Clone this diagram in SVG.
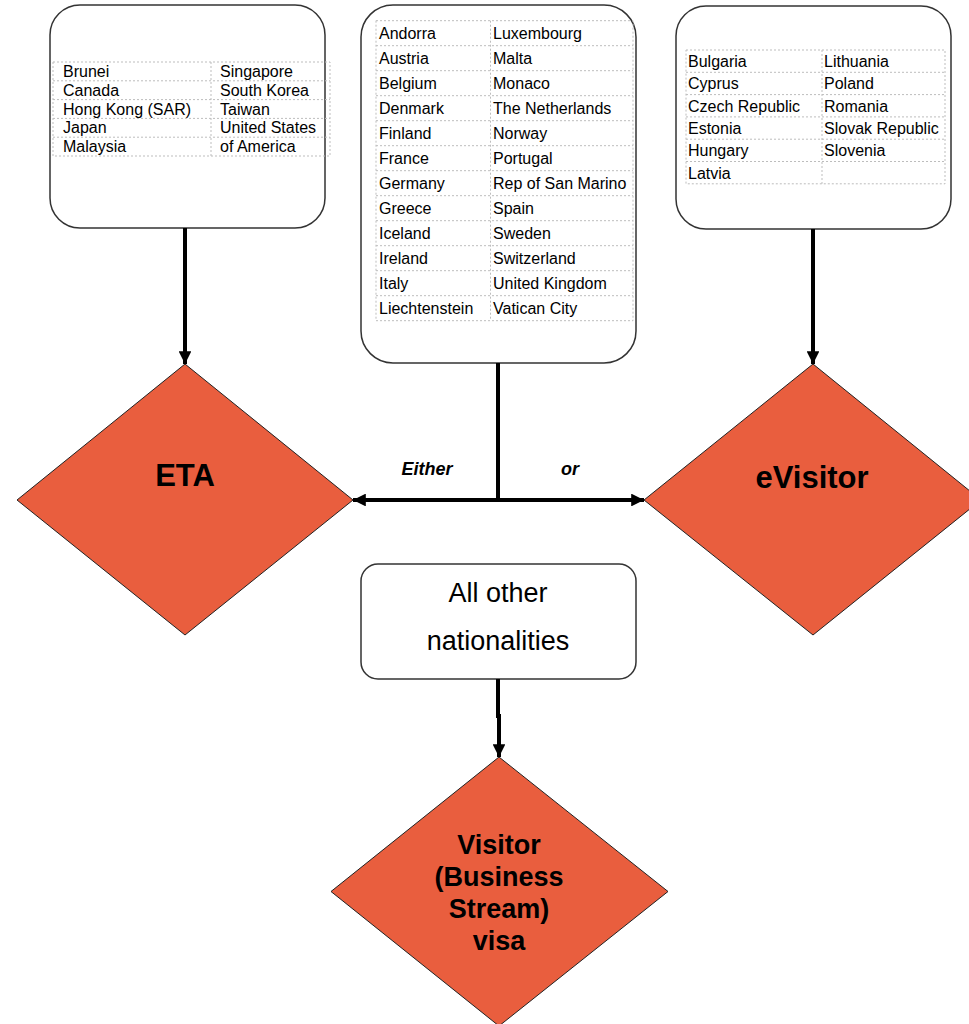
<svg xmlns="http://www.w3.org/2000/svg" width="969" height="1024" viewBox="0 0 969 1024">
<defs>
<style>
.box{fill:#fff;stroke:#333;stroke-width:1.5}
.grid{fill:none;stroke:#bdbdbd;stroke-width:1;stroke-dasharray:2,2}
.t{font-family:"Liberation Sans",Arial,sans-serif;font-size:16px;fill:#000}
.dia{fill:#E95E3E;stroke:#222;stroke-width:1}
.dt{font-family:"Liberation Sans",Arial,sans-serif;font-weight:bold;fill:#000;text-anchor:middle}
.lbl{font-family:"Liberation Sans",Arial,sans-serif;font-style:italic;font-weight:bold;font-size:18px;fill:#000;text-anchor:middle}
.conn{fill:none;stroke:#000;stroke-width:4}
</style>
<marker id="ah" viewBox="0 0 10 10" refX="10" refY="5" markerWidth="3.6" markerHeight="3.2" orient="auto" markerUnits="strokeWidth">
<path d="M0,0 L10,5 L0,10 z" fill="#000"/>
</marker>
</defs>

<g id="box-eta">
<rect class="box" x="50" y="5" width="275" height="223" rx="30"/>
<g class="grid">
<rect x="53" y="62" width="277" height="94"/>
<line x1="211" y1="62" x2="211" y2="156"/>
<line x1="53" y1="80.8" x2="330" y2="80.8"/>
<line x1="53" y1="99.6" x2="330" y2="99.6"/>
<line x1="53" y1="118.4" x2="330" y2="118.4"/>
<line x1="53" y1="137.2" x2="330" y2="137.2"/>
</g>
<text class="t" x="63" y="77">Brunei</text>
<text class="t" x="63" y="95.8">Canada</text>
<text class="t" x="63" y="114.6">Hong Kong (SAR)</text>
<text class="t" x="63" y="133.4">Japan</text>
<text class="t" x="63" y="152.2">Malaysia</text>
<text class="t" x="220" y="77">Singapore</text>
<text class="t" x="220" y="95.8">South Korea</text>
<text class="t" x="220" y="114.6">Taiwan</text>
<text class="t" x="220" y="133.4">United States</text>
<text class="t" x="220" y="152.2">of America</text>
</g>

<g id="box-either">
<rect class="box" x="361" y="5" width="275" height="358" rx="32"/>
<g class="grid">
<rect x="376" y="20.7" width="257" height="300"/>
<line x1="490.5" y1="20.7" x2="490.5" y2="320.7"/>
<line x1="376" y1="45.7" x2="633" y2="45.7"/>
<line x1="376" y1="70.7" x2="633" y2="70.7"/>
<line x1="376" y1="95.7" x2="633" y2="95.7"/>
<line x1="376" y1="120.7" x2="633" y2="120.7"/>
<line x1="376" y1="145.7" x2="633" y2="145.7"/>
<line x1="376" y1="170.7" x2="633" y2="170.7"/>
<line x1="376" y1="195.7" x2="633" y2="195.7"/>
<line x1="376" y1="220.7" x2="633" y2="220.7"/>
<line x1="376" y1="245.7" x2="633" y2="245.7"/>
<line x1="376" y1="270.7" x2="633" y2="270.7"/>
<line x1="376" y1="295.7" x2="633" y2="295.7"/>
</g>
<text class="t" x="379" y="38.5">Andorra</text>
<text class="t" x="379" y="63.5">Austria</text>
<text class="t" x="379" y="88.5">Belgium</text>
<text class="t" x="379" y="113.5">Denmark</text>
<text class="t" x="379" y="138.5">Finland</text>
<text class="t" x="379" y="163.5">France</text>
<text class="t" x="379" y="188.5">Germany</text>
<text class="t" x="379" y="213.5">Greece</text>
<text class="t" x="379" y="238.5">Iceland</text>
<text class="t" x="379" y="263.5">Ireland</text>
<text class="t" x="379" y="288.5">Italy</text>
<text class="t" x="379" y="313.5">Liechtenstein</text>
<text class="t" x="493" y="38.5">Luxembourg</text>
<text class="t" x="493" y="63.5">Malta</text>
<text class="t" x="493" y="88.5">Monaco</text>
<text class="t" x="493" y="113.5">The Netherlands</text>
<text class="t" x="493" y="138.5">Norway</text>
<text class="t" x="493" y="163.5">Portugal</text>
<text class="t" x="493" y="188.5">Rep of San Marino</text>
<text class="t" x="493" y="213.5">Spain</text>
<text class="t" x="493" y="238.5">Sweden</text>
<text class="t" x="493" y="263.5">Switzerland</text>
<text class="t" x="493" y="288.5">United Kingdom</text>
<text class="t" x="493" y="313.5">Vatican City</text>
</g>

<g id="box-evisitor">
<rect class="box" x="676" y="6" width="275" height="223" rx="30"/>
<g class="grid">
<rect x="686" y="50" width="259" height="133.8"/>
<line x1="822" y1="50" x2="822" y2="183.8"/>
<line x1="686" y1="72.3" x2="945" y2="72.3"/>
<line x1="686" y1="94.6" x2="945" y2="94.6"/>
<line x1="686" y1="116.9" x2="945" y2="116.9"/>
<line x1="686" y1="139.2" x2="945" y2="139.2"/>
<line x1="686" y1="161.5" x2="945" y2="161.5"/>
</g>
<text class="t" x="688" y="67">Bulgaria</text>
<text class="t" x="688" y="89.3">Cyprus</text>
<text class="t" x="688" y="111.6">Czech Republic</text>
<text class="t" x="688" y="133.9">Estonia</text>
<text class="t" x="688" y="156.2">Hungary</text>
<text class="t" x="688" y="178.5">Latvia</text>
<text class="t" x="824" y="67">Lithuania</text>
<text class="t" x="824" y="89.3">Poland</text>
<text class="t" x="824" y="111.6">Romania</text>
<text class="t" x="824" y="133.9">Slovak Republic</text>
<text class="t" x="824" y="156.2">Slovenia</text>
</g>

<g id="box-other">
<rect class="box" x="361" y="564" width="275" height="115" rx="17"/>
<text x="498" y="602" font-family="Liberation Sans, Arial, sans-serif" font-size="27" text-anchor="middle">All other</text>
<text x="498" y="650" font-family="Liberation Sans, Arial, sans-serif" font-size="27" text-anchor="middle">nationalities</text>
</g>

<g id="node-eta">
<polygon class="dia" points="185,364 353,500 185,635 17,500"/>
<text class="dt" x="185" y="486" font-size="31">ETA</text>
</g>

<g id="node-evisitor">
<polygon class="dia" points="813,364 981,500 813,635 644,500"/>
<text class="dt" x="812" y="488" font-size="31">eVisitor</text>
</g>

<g id="node-visa">
<polygon class="dia" points="499,757 668,891.5 499,1026 331,891.5"/>
<text class="dt" x="499" y="854" font-size="27">Visitor</text>
<text class="dt" x="499" y="886" font-size="27">(Business</text>
<text class="dt" x="499" y="918" font-size="27">Stream)</text>
<text class="dt" x="499" y="950" font-size="27">visa</text>
</g>

<g id="connectors">
<line class="conn" x1="185" y1="228" x2="185" y2="364" marker-end="url(#ah)"/>
<line class="conn" x1="813" y1="229" x2="813" y2="364" marker-end="url(#ah)"/>
<line class="conn" x1="498" y1="363" x2="498" y2="500"/>
<line class="conn" x1="500" y1="500" x2="353" y2="500" marker-end="url(#ah)"/>
<line class="conn" x1="496" y1="500" x2="644" y2="500" marker-end="url(#ah)"/>
<polyline class="conn" points="498,679 498,716 499,716 499,757" marker-end="url(#ah)"/>
<text class="lbl" x="427" y="475">Either</text>
<text class="lbl" x="570" y="475">or</text>
</g>
</svg>
